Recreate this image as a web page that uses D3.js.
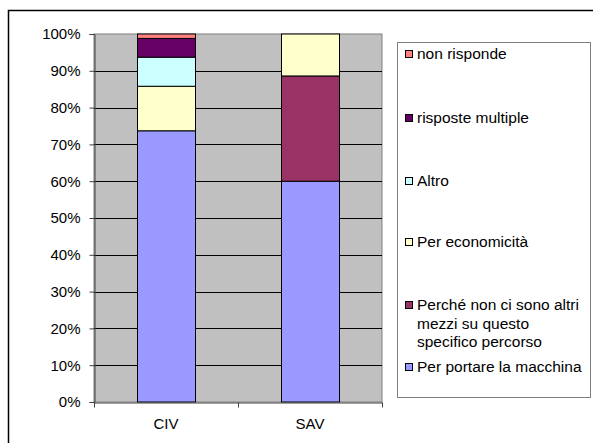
<!DOCTYPE html>
<html>
<head>
<meta charset="utf-8">
<script src="https://cdn.jsdelivr.net/npm/d3@7"></script>
<style>
  body { margin: 0; background: #fff; }
  svg { display: block; font-family: "Liberation Sans", Arial, sans-serif; }
</style>
</head>
<body>
<div id="chart"></div>
<script>
  const categories = ['CIV', 'SAV'];
  const seriesNames = [
    'Per portare la macchina',
    'Perché non ci sono altri mezzi su questo specifico percorso',
    'Per economicità',
    'Altro',
    'risposte multiple',
    'non risponde'
  ];
  const seriesColors = ['#9999ff', '#993366', '#ffffcc', '#ccffff', '#660066', '#ff8080'];
  const civValues = [73.7, 0, 12.1, 7.9, 5.1, 1.2];
  const savValues = [60.0, 28.6, 11.4, 0, 0, 0];
  const yTicks = [0, 10, 20, 30, 40, 50, 60, 70, 80, 90, 100];
  const legendLines = [
    ['Per portare la macchina'],
    ['Perché non ci sono altri', 'mezzi su questo', 'specifico percorso'],
    ['Per economicità'],
    ['Altro'],
    ['risposte multiple'],
    ['non risponde']
  ];

  const width = 593, height = 443;
  const plot = { left: 94, right: 382, top: 34, bottom: 402 };
  const font = '"Liberation Sans", Arial, sans-serif';

  const rows = categories.map((c, i) => {
    const vals = i === 0 ? civValues : savValues;
    const row = { cat: c };
    seriesNames.forEach((s, j) => { row[s] = vals[j]; });
    return row;
  });
  const stacked = d3.stack().keys(seriesNames)(rows);

  const svg = d3.select('#chart').append('svg')
    .attr('width', width)
    .attr('height', height);

  // outer chart frame
  svg.append('rect')
    .attr('x', 8.5).attr('y', 10.5)
    .attr('width', width + 20).attr('height', height + 20)
    .attr('fill', '#fff')
    .attr('stroke', '#000')
    .attr('stroke-width', 1.5);

  const x = d3.scaleBand()
    .domain(categories)
    .range([plot.left, plot.right])
    .paddingInner(0.6)
    .paddingOuter(0.3);

  const y = d3.scaleLinear()
    .domain([0, 100])
    .range([plot.bottom, plot.top]);

  // plot background
  svg.append('rect')
    .attr('x', plot.left).attr('y', plot.top)
    .attr('width', plot.right - plot.left)
    .attr('height', plot.bottom - plot.top)
    .attr('fill', '#c0c0c0')
    .attr('stroke', '#808080')
    .attr('stroke-width', 1);

  // gridlines
  svg.append('g')
    .selectAll('line')
    .data(yTicks.filter(d => d > 0 && d < 100))
    .join('line')
    .attr('x1', plot.left).attr('x2', plot.right)
    .attr('y1', d => Math.round(y(d)) + 0.5)
    .attr('y2', d => Math.round(y(d)) + 0.5)
    .attr('stroke', '#000')
    .attr('stroke-width', 1);

  // bars
  svg.append('g')
    .selectAll('g')
    .data(stacked)
    .join('g')
    .attr('fill', (d, i) => seriesColors[i])
    .selectAll('rect')
    .data(d => d.filter(p => p[1] - p[0] > 0))
    .join('rect')
    .attr('x', d => Math.round(x(d.data.cat)) + 0.5)
    .attr('width', Math.round(x.bandwidth()))
    .attr('y', d => y(d[1]))
    .attr('height', d => y(d[0]) - y(d[1]))
    .attr('stroke', '#000')
    .attr('stroke-width', 1);

  // y axis
  const yAxis = svg.append('g')
    .attr('transform', `translate(${plot.left + 0.5},0)`)
    .call(d3.axisLeft(y).tickValues(yTicks).tickSize(5).tickPadding(9).tickFormat(d => d + '%'));
  yAxis.select('.domain').attr('stroke', '#404040');
  yAxis.selectAll('.tick line').attr('stroke', '#404040');
  yAxis.selectAll('text').attr('font-size', 15).attr('fill', '#000').attr('font-family', font);

  // x axis
  const xAxis = svg.append('g')
    .attr('transform', `translate(0,${plot.bottom + 0.5})`)
    .call(d3.axisBottom(x).tickSize(0).tickPadding(16));
  xAxis.select('.domain').attr('stroke', '#404040');
  xAxis.selectAll('text').attr('font-size', 15).attr('fill', '#000').attr('font-family', font);
  const step = x.step();
  xAxis.selectAll('.sep')
    .data(d3.range(categories.length + 1))
    .join('line')
    .attr('class', 'sep')
    .attr('x1', i => plot.left + 0.5 + i * step)
    .attr('x2', i => plot.left + 0.5 + i * step)
    .attr('y1', 0).attr('y2', 5)
    .attr('stroke', '#404040');

  // legend
  const legend = svg.append('g');
  legend.append('rect')
    .attr('x', 397.5).attr('y', 42.5)
    .attr('width', 193).attr('height', 355)
    .attr('fill', '#fff')
    .attr('stroke', '#808080')
    .attr('stroke-width', 1);

  const legendY = [367, 305, 242, 181, 118, 54];
  const item = legend.selectAll('g.item')
    .data(seriesNames)
    .join('g')
    .attr('class', 'item')
    .attr('transform', (d, i) => `translate(405,${legendY[i]})`);

  item.append('rect')
    .attr('x', 0.5).attr('y', -3.5)
    .attr('width', 7).attr('height', 7)
    .attr('fill', (d, i) => seriesColors[i])
    .attr('stroke', '#000')
    .attr('stroke-width', 1);

  item.append('text')
    .attr('x', 12)
    .attr('font-size', 15.5)
    .attr('font-family', font)
    .attr('fill', '#000')
    .selectAll('tspan')
    .data((d, i) => legendLines[i])
    .join('tspan')
    .attr('x', 12)
    .attr('y', (d, k) => k * 18.5)
    .attr('dy', '0.35em')
    .text(d => d);
</script>
</body>
</html>
